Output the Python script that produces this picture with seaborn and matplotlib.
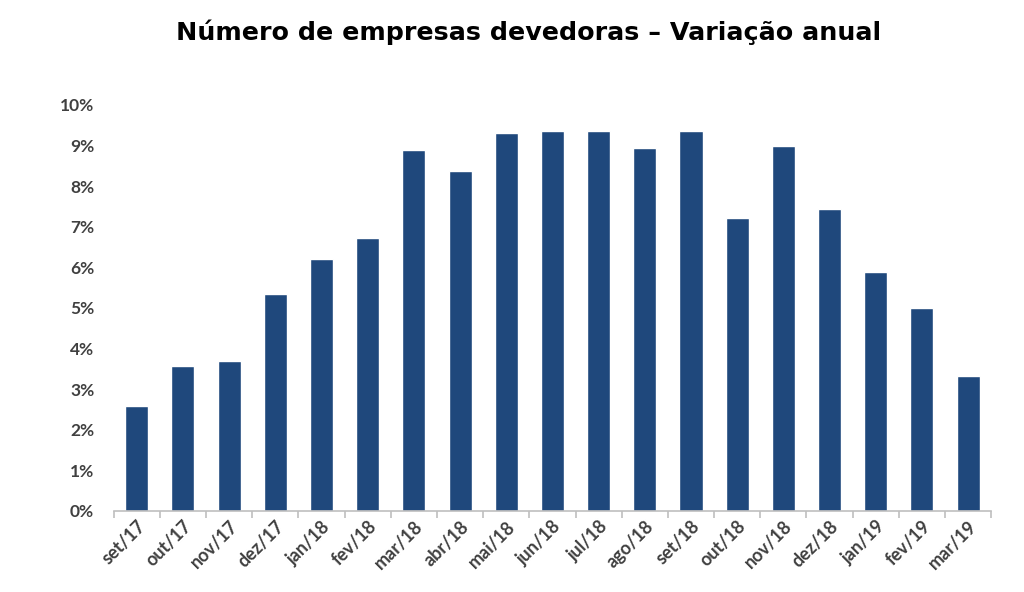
import matplotlib
matplotlib.use("Agg")
import matplotlib.pyplot as plt
import seaborn as sns
import numpy as np
import pandas as pd
from matplotlib.ticker import FixedLocator, PercentFormatter

categories = ["set/17", "out/17", "nov/17", "dez/17", "jan/18", "fev/18", "mar/18",
              "abr/18", "mai/18", "jun/18", "jul/18", "ago/18", "set/18", "out/18",
              "nov/18", "dez/18", "jan/19", "fev/19", "mar/19"]
values = [2.59, 3.56, 3.70, 5.33, 6.20, 6.72, 8.89, 8.37, 9.31, 9.36, 9.36, 8.94,
          9.36, 7.21, 8.99, 7.43, 5.88, 4.99, 3.31]
yticks = [0, 1, 2, 3, 4, 5, 6, 7, 8, 9, 10]
title = "Número de empresas devedoras – Variação anual"

sns.set_theme(style="white")
plt.rcParams['font.family'] = ['Lato', 'DejaVu Sans']

df = pd.DataFrame({"mes": categories, "var": values})

fig = plt.figure(figsize=(10.24, 5.92), dpi=100)
ax = fig.add_axes([0.111, 0.137, 0.857, 0.686])
sns.barplot(data=df, x="mes", y="var", color="#1f487c", saturation=1, width=0.5, ax=ax)

ax.set_ylim(0, 10)
ax.set_xlim(-0.5, len(categories) - 0.5)
ax.set_yticks(yticks)
ax.yaxis.set_major_formatter(PercentFormatter(decimals=0))
ax.set_xlabel("")
ax.set_ylabel("")
for s in ["top", "right", "left"]:
    ax.spines[s].set_visible(False)
ax.spines["bottom"].set_color("#bfbfbf")
ax.spines["bottom"].set_linewidth(1.2)

ax.tick_params(axis="y", length=0, labelsize=12.5, labelcolor="#404040", pad=14)
ax.tick_params(axis="x", which="major", length=0, labelsize=13, labelcolor="#404040", pad=5)
ax.xaxis.set_minor_locator(FixedLocator(np.arange(-0.5, len(categories), 1.0)))
ax.tick_params(axis="x", which="minor", length=5, color="#bfbfbf", width=1.2, bottom=True)
for lbl in ax.get_yticklabels():
    lbl.set_fontweight("bold")
for lbl in ax.get_xticklabels():
    lbl.set_fontweight("bold")
    lbl.set_rotation(45)
    lbl.set_ha("right")
    lbl.set_rotation_mode("anchor")

fig.text(0.516, 0.945, title, ha="center", va="center", fontsize=18.3,
         fontweight="bold", color="#000000", family=["DejaVu Sans"])

fig.savefig("out.png", dpi=100, facecolor="white")
